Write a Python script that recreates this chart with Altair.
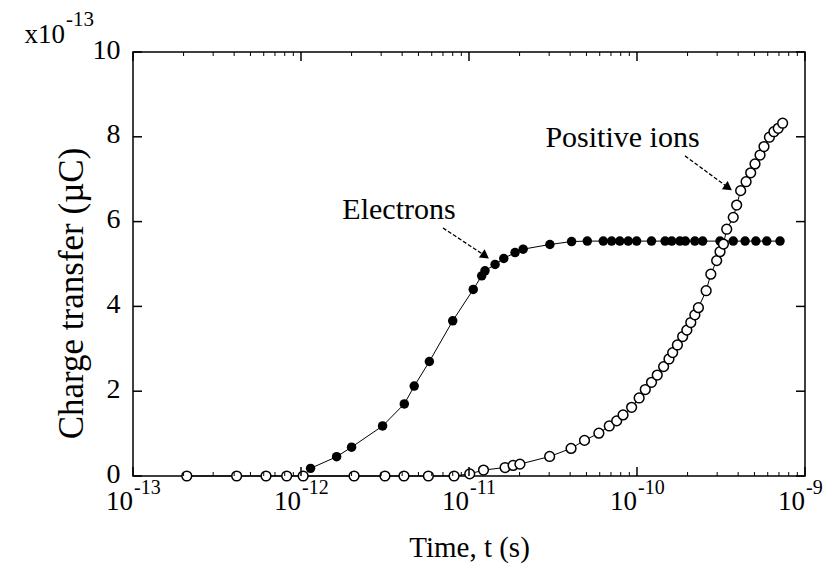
import altair as alt
import pandas as pd

# ---------------- data ----------------
elec_t = [1.14e-12, 1.63e-12, 2.0e-12, 3.06e-12, 4.12e-12, 4.72e-12, 5.81e-12,
          8.0e-12, 1.06e-11, 1.19e-11, 1.245e-11, 1.43e-11, 1.61e-11, 1.88e-11,
          2.10e-11, 3.03e-11, 4.08e-11, 5.06e-11, 6.3e-11, 7.06e-11, 7.9e-11,
          8.87e-11, 9.95e-11, 1.22e-10, 1.47e-10, 1.61e-10, 1.80e-10, 1.94e-10,
          2.21e-10, 2.46e-10, 3.12e-10, 3.74e-10, 4.40e-10, 5.1e-10, 5.92e-10,
          7.1e-10]
elec_v = [0.18, 0.455, 0.68, 1.18, 1.70, 2.12, 2.70,
          3.66, 4.40, 4.72, 4.84, 4.99, 5.13, 5.27,
          5.35, 5.46, 5.53, 5.54, 5.54, 5.54, 5.54,
          5.54, 5.54, 5.54, 5.54, 5.54, 5.54, 5.54,
          5.54, 5.54, 5.54, 5.54, 5.54, 5.54, 5.54,
          5.54]

ion_t = [2.09e-13, 4.14e-13, 6.19e-13, 8.22e-13, 1.03e-12, 2.07e-12, 3.16e-12,
         4.10e-12, 5.73e-12, 8.15e-12, 1.01e-11, 1.22e-11, 1.64e-11, 1.83e-11,
         2.01e-11, 3.02e-11, 4.05e-11, 4.87e-11, 5.93e-11, 6.84e-11, 7.57e-11,
         8.26e-11, 9.29e-11, 1.03e-10, 1.12e-10, 1.22e-10, 1.32e-10, 1.44e-10,
         1.55e-10, 1.63e-10, 1.74e-10, 1.87e-10, 1.98e-10, 2.09e-10, 2.21e-10,
         2.32e-10, 2.58e-10, 2.75e-10, 2.98e-10, 3.12e-10, 3.27e-10, 3.42e-10,
         3.74e-10, 3.92e-10, 4.14e-10, 4.46e-10, 4.75e-10, 5.04e-10, 5.40e-10,
         5.70e-10, 6.14e-10, 6.53e-10, 6.93e-10, 7.36e-10]
ion_v = [0.0, 0.0, 0.0, 0.0, 0.0, 0.0, 0.0,
         0.0, 0.0, 0.0, 0.05, 0.14, 0.20, 0.25,
         0.28, 0.46, 0.65, 0.84, 1.01, 1.18, 1.30,
         1.44, 1.62, 1.84, 2.04, 2.21, 2.38, 2.58,
         2.76, 2.91, 3.09, 3.29, 3.44, 3.62, 3.80,
         3.97, 4.37, 4.76, 5.08, 5.29, 5.47, 5.82,
         6.10, 6.39, 6.73, 6.94, 7.15, 7.36, 7.57,
         7.77, 7.99, 8.12, 8.20, 8.32]

x_major = [1e-13, 1e-12, 1e-11, 1e-10, 1e-9]
x_major_exp = ["-13", "-12", "-11", "-10", "-9"]
x_minor = [m * d for d in [1e-13, 1e-12, 1e-11, 1e-10] for m in [2, 3, 4, 5, 6, 7, 8, 9]]
y_major = [0, 2, 4, 6, 8, 10]

labels_txt = ["Electrons", "Positive ions"]
labels_t = [3.83e-12, 8.2e-11]
labels_v = [6.27, 7.97]

arrow_t1 = [7.0e-12, 1.93e-10]
arrow_v1 = [5.85, 7.55]
arrow_t2 = [1.23e-11, 3.44e-10]
arrow_v2 = [5.21, 6.82]

# ---------------- layout ----------------
W, H = 672, 424
FONT = "Liberation Serif"

xs = alt.Scale(type="log", domain=[1e-13, 1e-9])
ys = alt.Scale(domain=[0, 10])

elec = pd.DataFrame({"t": elec_t, "v": elec_v})
ion = pd.DataFrame({"t": ion_t, "v": ion_v})
xmaj = pd.DataFrame({"t": x_major, "e": x_major_exp})
xmin = pd.DataFrame({"t": x_minor})
ymaj = pd.DataFrame({"v": y_major})
lab = pd.DataFrame({"t": labels_t, "v": labels_v, "txt": labels_txt})
arr = pd.DataFrame({"t": arrow_t1, "v": arrow_v1, "t2": arrow_t2, "v2": arrow_v2})

x_axis = alt.Axis(labels=False, ticks=False, domain=False, grid=False,
                  title="Time, t (s)", titleFont=FONT, titleFontSize=29,
                  titleFontWeight="normal", titleColor="black", titlePadding=57)
y_axis = alt.Axis(values=y_major, ticks=False, domain=False, grid=False,
                  labelFont=FONT, labelFontSize=28, labelColor="black",
                  labelPadding=13, labelOffset=-2, title="Charge transfer (µC)",
                  titleFont=FONT, titleFontSize=35, titleFontWeight="normal",
                  titleColor="black", titlePadding=3, titleY=241)


def X(f="t"):
    return alt.X(f"{f}:Q", scale=xs, axis=x_axis)


def Y(f="v"):
    return alt.Y(f"{f}:Q", scale=ys, axis=y_axis)


ion_line = alt.Chart(ion).mark_line(color="black", strokeWidth=1).encode(x=X(), y=Y())
elec_line = alt.Chart(elec).mark_line(color="black", strokeWidth=1).encode(x=X(), y=Y())
elec_pts = alt.Chart(elec).mark_point(shape="circle", filled=True, color="black", size=90,
                                      opacity=1).encode(x=X(), y=Y())
ion_pts = alt.Chart(ion).mark_point(shape="circle", filled=True, fill="white", stroke="black",
                                    strokeWidth=1.5, size=95, opacity=1).encode(x=X(), y=Y())

tick_style = dict(color="black", strokeWidth=1.5)
ticks = [
    alt.Chart(ymaj).mark_rule(**tick_style).encode(y=Y(), x=alt.value(0), x2=alt.value(9)),
    alt.Chart(ymaj).mark_rule(**tick_style).encode(y=Y(), x=alt.value(W), x2=alt.value(W - 9)),
    alt.Chart(xmaj).mark_rule(**tick_style).encode(x=X(), y=alt.value(H), y2=alt.value(H - 9)),
    alt.Chart(xmaj).mark_rule(**tick_style).encode(x=X(), y=alt.value(0), y2=alt.value(9)),
    alt.Chart(xmin).mark_rule(color="black", strokeWidth=1).encode(x=X(), y=alt.value(H), y2=alt.value(H - 4)),
    alt.Chart(xmin).mark_rule(color="black", strokeWidth=1).encode(x=X(), y=alt.value(0), y2=alt.value(4)),
]

xlab_base = alt.Chart(xmaj).mark_text(font=FONT, fontSize=27, align="right", baseline="middle",
                                      color="black").encode(x=X(), y=alt.value(H + 26), text=alt.value("10"))
xlab_exp = alt.Chart(xmaj).mark_text(font=FONT, fontSize=20, align="left", baseline="middle",
                                     color="black", dx=1).encode(x=X(), y=alt.value(H + 12), text="e:N")

mult_base = alt.Chart(ymaj.head(1)).mark_text(font=FONT, fontSize=27, align="right", baseline="middle",
                                              color="black").encode(x=alt.value(-68), y=alt.value(-17),
                                                                    text=alt.value("x10"))
mult_exp = alt.Chart(ymaj.head(1)).mark_text(font=FONT, fontSize=21, align="left", baseline="middle",
                                             color="black").encode(x=alt.value(-67), y=alt.value(-32),
                                                                   text=alt.value("-13"))

ann_text = alt.Chart(lab).mark_text(font=FONT, fontSize=30, align="center", baseline="middle",
                                    color="black").encode(x=X(), y=Y(), text="txt:N")
ann_line = alt.Chart(arr).mark_rule(color="black", strokeWidth=1.3, strokeDash=[4, 2]).encode(
    x=X(), y=Y(), x2="t2:Q", y2="v2:Q")
ann_head = alt.Chart(arr).mark_point(shape="triangle", filled=True, color="black", size=100,
                                     angle=125, opacity=1).encode(x=X("t2"), y=Y("v2"))

chart = alt.layer(
    ion_line, elec_line, elec_pts, ion_pts, *ticks,
    xlab_base, xlab_exp, mult_base, mult_exp, ann_text, ann_line, ann_head
).properties(
    width=W, height=H,
    padding={"left": 133, "top": 52, "right": 28, "bottom": 90},
    autosize=alt.AutoSizeParams(type="none"),
    background="white",
).configure_view(stroke="black", strokeWidth=1.5)

chart.save("out.html", embed_options={"renderer": "svg", "actions": False})
